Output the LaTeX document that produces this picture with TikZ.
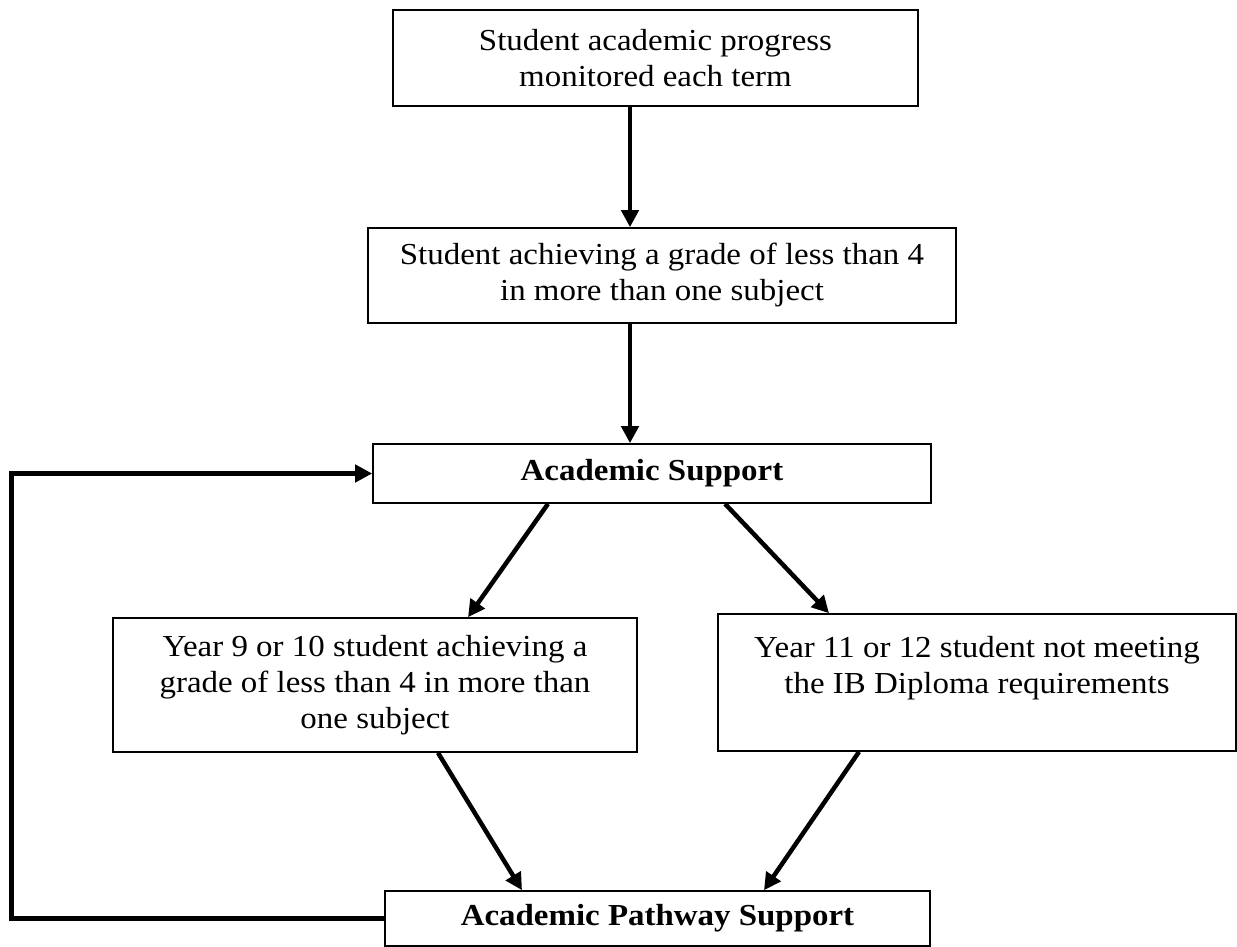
\documentclass[tikz,border=0pt]{standalone}
\usepackage{fontspec}
\setmainfont{Liberation Serif}[FakeStretch=1.08]
\usetikzlibrary{arrows.meta}

\begin{document}
\begin{tikzpicture}[x=1pt, y=-1pt,
    box/.style={draw, line width=1.6pt, rectangle, inner sep=0pt, align=center, font=\fontsize{30.5}{36}\selectfont},
    arr/.style={line width=4.5pt, -{Triangle[length=17pt,width=17pt]}}]
    \useasboundingbox (0,0) rectangle (1237,947);
    \node[box, minimum width=525, minimum height=96] (monitor) at (655.5,58) {Student academic progress\\monitored each term};
    \node[box, minimum width=588, minimum height=95] (lowgrade) at (662,275.5) {Student achieving a grade of less than 4\\in more than one subject};
    \node[box, minimum width=558, minimum height=59] (support) at (652,473.5) {\textbf{Academic Support}};
    \node[box, minimum width=524, minimum height=134] (junior) at (375,685) {Year 9 or 10 student achieving a\\grade of less than 4 in more than\\one subject};
    \node[box, minimum width=518, minimum height=137] (senior) at (977,682.5) {Year 11 or 12 student not meeting\\the IB Diploma requirements\\\mbox{}};
    \node[box, minimum width=545, minimum height=55] (pathway) at (657.5,918.5) {\textbf{Academic Pathway Support}};
    \coordinate (spine) at (630,0);
    \coordinate (loop) at (11,0);
    \draw[arr] (monitor.south -| spine) -- (lowgrade.north -| spine);
    \draw[arr] (lowgrade.south -| spine) -- (support.north -| spine);
    \draw[arr] ([xshift=-104pt]support.south) -- ([xshift=93pt]junior.north);
    \draw[arr] ([xshift=73pt]support.south) -- ([xshift=-148pt]senior.north);
    \draw[arr] ([xshift=63pt]junior.south) -- ([xshift=-135.5pt]pathway.north);
    \draw[arr] ([xshift=-118pt]senior.south) -- ([xshift=106.5pt]pathway.north);
    \draw[arr, line width=5pt] (pathway.west) -- (loop |- pathway.west) -- (loop |- support.west) -- (support.west);
\end{tikzpicture}
\end{document}
